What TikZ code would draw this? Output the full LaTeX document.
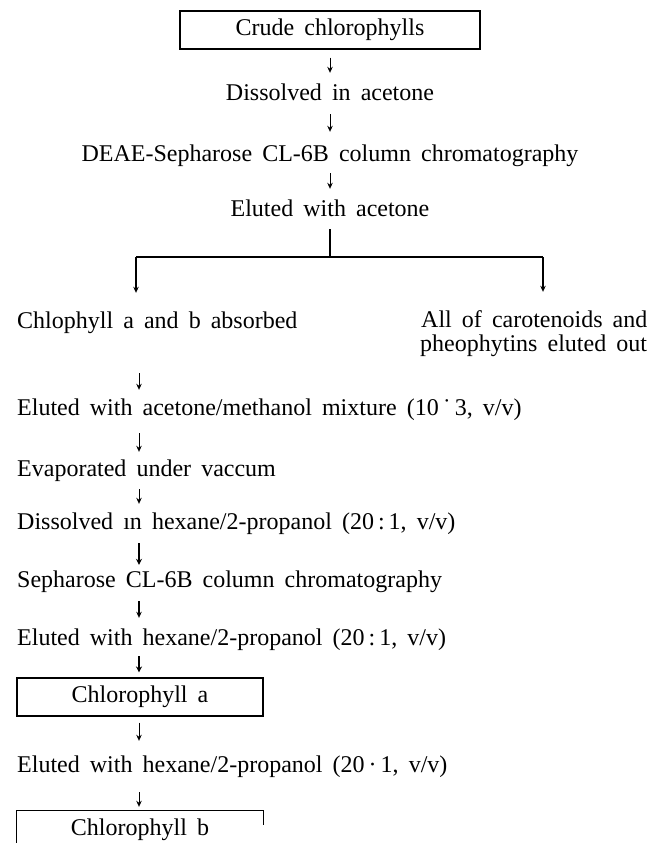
\documentclass[tikz,border=0pt]{standalone}
\usepackage{fontspec}
\setmainfont{Liberation Serif}
\usetikzlibrary{arrows.meta,calc}
\newcommand{\nodefont}{\fontsize{24}{24}\selectfont}
\newcommand{\widespace}{\spaceskip=0.42em plus 0.05em\relax}
\begin{document}
\begin{tikzpicture}[x=1pt,y=-1pt,
  every node/.style={font=\nodefont,execute at begin node=\widespace},
  txt/.style={inner sep=0pt,text height=16pt,text depth=5pt},
  ctxt/.style={txt,anchor=base},
  ltxt/.style={txt,anchor=base west},
  boxn/.style={draw,line width=1.1pt,inner sep=0pt,minimum height=38pt},
  openbox/.style={inner sep=0pt,minimum height=38pt},
  arr/.style={line width=1pt,-{Stealth[length=6pt,width=5.5pt]}},
  barr/.style={line width=1.6pt,-{Stealth[length=6pt,width=6pt]}},
  brl/.style={line width=1.4pt}
]
\useasboundingbox (0,0) rectangle (662,843);
\clip (0,0) rectangle (662,843);
% nodes
\node[boxn,minimum width=300pt] (crude) at (330,30) {Crude chlorophylls};
\node[ctxt] (dis1) at (330,100) {Dissolved in acetone};
\node[ctxt] (deae) at (330,161) {DEAE-Sepharose CL-6B column chromatography};
\node[ctxt] (elu1) at (330,216) {Eluted with acetone};
\node[ltxt] (chab) at (17,328) {Chlophyll a and b absorbed};
\node[ltxt] (caro1) at (421,327) {All of carotenoids and};
\node[ltxt] (caro2) at (420,351) {pheophytins eluted out};
\node[ltxt] (elu2) at (17,415) {Eluted with acetone/methanol mixture (10\,˙\,3, v/v)};
\node[ltxt] (evap) at (17,476) {Evaporated under vaccum};
\node[ltxt] (dis2) at (17,529) {Dissolved ın hexane/2-propanol (20\,:\,1, v/v)};
\node[ltxt] (seph) at (17,587) {Sepharose CL-6B column chromatography};
\node[ltxt] (elu3) at (17,645) {Eluted with hexane/2-propanol (20\,:\,1, v/v)};
\node[boxn,minimum width=246pt] (chla) at (140,697) {Chlorophyll a};
\node[ltxt] (elu4) at (17,772) {Eluted with hexane/2-propanol (20\,·\,1, v/v)};
\node[openbox,minimum width=246pt] (chlb) at (140,830) {Chlorophyll b};
% open box round Chlorophyll b (cut by the page edge)
\draw[line width=1.1pt] (chlb.south west) -- (chlb.north west) -- (chlb.north east)
  -- ($(chlb.north east)+(0,-14pt)$);
% coordinates
\coordinate (ax) at (139,0);
\coordinate (bj) at (330,257);
\coordinate (bl) at (136,257);
\coordinate (br) at (543,257);
% connectors
\draw[arr,shorten <=8pt,shorten >=11pt] (crude.south) -- (dis1.north);
\draw[arr,shorten <=9pt,shorten >=13pt] (dis1.south) -- (deae.north);
\draw[arr,shorten <=7pt,shorten >=11pt] (deae.south) -- (elu1.north);
\draw[brl,shorten <=8pt] (elu1.south) -- (bj);
\draw[brl] (bl) -- (br);
\draw[arr,line width=1.2pt,shorten >=19pt] (bl) -- (bl |- chab.north);
\draw[arr,line width=1.2pt,shorten >=19pt] (br) -- (br |- caro1.north);
\draw[arr,shorten <=40pt,shorten >=9pt] (ax |- chab.south) -- (ax |- elu2.north);
\draw[arr,shorten <=13pt,shorten >=8pt] (ax |- elu2.south) -- (ax |- evap.north);
\draw[arr,shorten <=8pt,shorten >=9pt] (ax |- evap.south) -- (ax |- dis2.north);
\draw[barr,shorten <=9pt,shorten >=6pt] (ax |- dis2.south) -- (ax |- seph.north);
\draw[arr,line width=1.3pt,shorten <=9pt,shorten >=11pt] (ax |- seph.south) -- (ax |- elu3.north);
\draw[barr,shorten <=6pt,shorten >=5pt] (ax |- elu3.south) -- (ax |- chla.north);
\draw[arr,shorten <=6pt,shorten >=15pt] (ax |- chla.south) -- (ax |- elu4.north);
\draw[arr,shorten <=15pt,shorten >=4pt] (ax |- elu4.south) -- (ax |- chlb.north);
\end{tikzpicture}
\end{document}
